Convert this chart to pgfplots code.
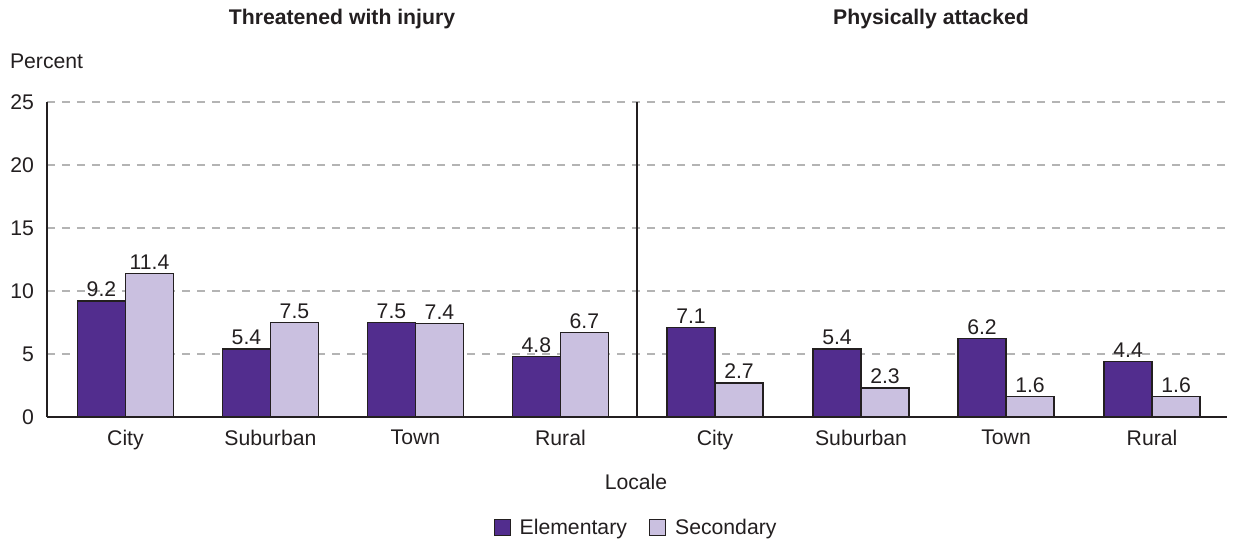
\documentclass[border=0pt]{standalone}
\usepackage{fontspec}
\setmainfont{Liberation Sans}
\usepackage{pgfplots}
\pgfplotsset{compat=1.18}
\definecolor{elem}{HTML}{522D8E}
\definecolor{sec}{HTML}{CAC0E0}
\definecolor{txt}{HTML}{231F20}
\definecolor{gridc}{HTML}{B4B4B4}
\newcommand\fs{\fontsize{10.6}{12.7}\selectfont}
\begin{document}
\begin{tikzpicture}[font=\fs, text=txt]
\useasboundingbox (-23.5pt,-62.5pt) rectangle (593pt,208.5pt);
\begin{axis}[at={(0,0)}, anchor=south west, scale only axis,
  width=590pt, height=157.5pt,
  xmin=0, xmax=8, ymin=0, ymax=25,
  ytick={0,5,10,15,20,25},
  xtick={0.532,1.515,2.498,3.481,4.529,5.519,6.502,7.492},
  xticklabels={City,Suburban,Town,Rural,City,Suburban,Town,Rural},
  axis x line=bottom, axis y line=left,
  axis line style={-, draw=txt, line width=0.6pt},
  major tick length=0pt,
  ymajorgrids, grid style={gridc, line width=0.6pt, dash pattern=on 4pt off 3.5pt},
  /pgf/number format/assume math mode=true,
  ticklabel style={font=\fs, text=txt},
  yticklabel style={xshift=-3pt},
  xticklabel style={yshift=-3pt},
  ybar=0pt, bar width=24pt,
  nodes near coords,
  nodes near coords style={font=\fs, text=txt, inner sep=1.8pt, /pgf/number format/fixed, /pgf/number format/fixed zerofill, /pgf/number format/precision=1, /pgf/number format/assume math mode=true},
  legend style={at={(axis description cs:0.5,-0.352)}, anchor=center, draw=none, legend columns=2, font=\fs, /tikz/every even column/.append style={column sep=9pt}},
  legend image code/.code={\draw[#1, line width=0.6pt] (0pt,-4pt) rectangle (8pt,4pt); \path (10.5pt,0pt);},
  clip=false,
]
\addplot[fill=elem, draw=txt, line width=0.6pt] coordinates {(0.532,9.2) (1.515,5.4) (2.498,7.5) (3.481,4.8) (4.529,7.1) (5.519,5.4) (6.502,6.2) (7.492,4.4)};
\addplot[fill=sec, draw=txt, line width=0.6pt] coordinates {(0.532,11.4) (1.515,7.5) (2.498,7.4) (3.481,6.7) (4.529,2.7) (5.519,2.3) (6.502,1.6) (7.492,1.6)};
\legend{Elementary, Secondary}
\draw[txt, line width=0.6pt] (axis cs:4,0) -- (axis cs:4,25);
\end{axis}
\node[anchor=west] at (-22pt,178pt) {Percent};
\node[font=\fs\bfseries] at (147.5pt,199pt) {Threatened with injury};
\node[font=\fs\bfseries] at (442pt,199pt) {Physically attacked};
\node at (294.5pt,-32.5pt) {Locale};
\end{tikzpicture}
\end{document}
